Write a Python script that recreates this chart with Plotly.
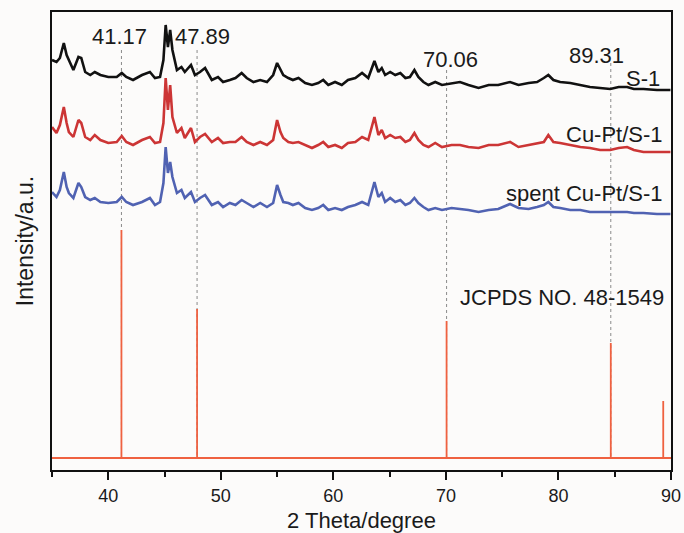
import plotly.graph_objects as go

# ---- data (2θ in degrees, intensity in a.u. as displayed, stacked) ----
two_theta = [35.0, 35.4, 35.7, 36.05, 36.3, 36.5, 36.9, 37.35, 37.6, 37.95, 38.4, 38.8, 39.3, 40.0,
             40.75, 41.2, 41.6, 42.2, 43.0, 43.7, 44.15, 44.6, 44.9, 45.1, 45.3, 45.5, 45.7, 46.1,
             46.5, 46.8, 47.35, 47.7, 48.15, 48.6, 49.2, 49.75, 50.2, 50.8, 51.3, 51.85, 52.3, 52.9,
             53.5, 54.1, 54.65, 55.0, 55.3, 55.55, 56.0, 56.4, 56.9, 57.5, 58.1, 58.65, 59.1, 59.55,
             60.15, 60.75, 61.3, 61.95, 62.55, 63.1, 63.65, 64.0, 64.3, 64.6, 65.05, 65.5, 65.95,
             66.4, 66.8, 67.2, 67.55, 68.0, 68.45, 69.05, 69.65, 70.5, 71.25, 72.0, 72.9, 73.8,
             74.65, 75.7, 76.45, 77.35, 78.1, 78.7, 79.1, 79.55, 80.15, 81.05, 81.95, 82.8, 83.7,
             84.6, 85.35, 86.1, 86.7, 87.55, 88.75, 89.95]

s1 = [410, 408, 412, 427, 415, 410, 400, 413, 412, 398, 395, 398, 395, 393, 393, 397, 393, 390,
      395, 398, 392, 393, 410, 445, 423, 440, 420, 400, 403, 398, 405, 395, 398, 402, 390, 393,
      388, 390, 392, 397, 392, 388, 390, 388, 395, 407, 400, 395, 392, 390, 392, 387, 385, 387,
      390, 385, 388, 385, 390, 392, 397, 392, 409, 398, 402, 395, 398, 395, 397, 392, 393, 400,
      393, 388, 385, 388, 385, 387, 388, 385, 382, 385, 385, 388, 385, 387, 388, 392, 395, 390,
      388, 387, 385, 383, 382, 381, 383, 383, 381, 381, 380, 380]

cupt_s1 = [343, 337, 345, 363, 347, 338, 333, 350, 347, 333, 330, 335, 330, 327, 328, 334, 328, 325,
           330, 333, 327, 328, 347, 392, 360, 385, 353, 337, 342, 332, 342, 328, 333, 336, 328, 332,
           327, 328, 328, 333, 328, 325, 328, 325, 330, 350, 338, 332, 328, 327, 328, 325, 322, 325,
           328, 323, 325, 322, 327, 328, 333, 330, 353, 335, 340, 332, 335, 332, 333, 328, 330, 337,
           330, 325, 323, 327, 323, 325, 325, 323, 322, 325, 325, 328, 323, 325, 327, 328, 335, 328,
           327, 325, 323, 322, 320, 320, 322, 323, 320, 318, 318, 318]

spent_cupt_s1 = [278, 273, 280, 298, 283, 277, 272, 287, 283, 273, 270, 272, 268, 267, 268, 273, 268, 265,
                 268, 272, 265, 268, 287, 323, 297, 308, 293, 277, 280, 272, 278, 268, 272, 275, 265, 268,
                 263, 267, 265, 270, 267, 263, 267, 263, 267, 285, 275, 268, 267, 265, 267, 262, 260, 262,
                 265, 260, 262, 260, 263, 265, 268, 265, 288, 273, 277, 268, 272, 268, 270, 265, 267, 272,
                 267, 263, 260, 262, 260, 262, 261, 260, 258, 260, 261, 266, 262, 261, 263, 265, 268, 263,
                 262, 260, 260, 258, 258, 258, 258, 258, 257, 257, 256, 256]

# JCPDS No. 48-1549 reference sticks
ref_pos = [41.17, 47.89, 70.06, 84.65, 89.31]
ref_top = [240, 161, 149, 127, 69]
ref_base = 12

# dashed guide lines and their peak labels
guide_pos = [41.17, 47.89, 70.06, 84.65]
guide_top = [420, 420, 400, 407]
peak_labels = ["41.17", "47.89", "70.06", "89.31"]
peak_label_x = [41.04, 48.38, 70.38, 83.35]
peak_label_y = [434, 434, 411, 415]

series_names = ["S-1", "Cu-Pt/S-1", "spent Cu-Pt/S-1"]
series_colors = ["#111111", "#cc3535", "#5062b2"]
series_label_x = [89.2, 89.5, 89.5]
series_label_y = [392, 336, 277]

x_tickvals = [40, 50, 60, 70, 80, 90]
x_ticktext = ["40", "50", "60", "70", "80", "90"]

FONT = "Liberation Sans, Arial, sans-serif"
BG = "#fcfbfa"
STICK = "#ef6140"

fig = go.Figure()

# dashed guides (drawn first, underneath)
gx, gy = [], []
for p, t in zip(guide_pos, guide_top):
    gx += [p, p, None]
    gy += [t, ref_base, None]
fig.add_trace(go.Scatter(x=gx, y=gy, mode="lines", showlegend=False, hoverinfo="skip",
                         line=dict(color="#8a8a8a", width=1, dash="3px,3px")))

# XRD patterns
for ys, name, col in zip([s1, cupt_s1, spent_cupt_s1], series_names, series_colors):
    fig.add_trace(go.Scatter(x=two_theta, y=ys, mode="lines", name=name, showlegend=False,
                             line=dict(color=col, width=2.6)))

# reference baseline
fig.add_trace(go.Scatter(x=[35, 90], y=[ref_base, ref_base], mode="lines", showlegend=False,
                         hoverinfo="skip", line=dict(color=STICK, width=1.8)))
# reference sticks
sx, sy = [], []
for p, t in zip(ref_pos, ref_top):
    sx += [p, p, None]
    sy += [ref_base, t, None]
fig.add_trace(go.Scatter(x=sx, y=sy, mode="lines", name="JCPDS NO. 48-1549", showlegend=False,
                         line=dict(color=STICK, width=1.8)))

annotations = []
for t, x, y in zip(peak_labels, peak_label_x, peak_label_y):
    annotations.append(dict(x=x, y=y, xref="x", yref="y", text=t, showarrow=False,
                            xanchor="center", yanchor="middle",
                            font=dict(family=FONT, size=22, color="#1a1a1a")))
for t, x, y in zip(series_names, series_label_x, series_label_y):
    annotations.append(dict(x=x, y=y, xref="x", yref="y", text=t, showarrow=False,
                            xanchor="right", yanchor="middle",
                            font=dict(family=FONT, size=22, color="#1a1a1a")))
annotations.append(dict(x=71.1, y=173, xref="x", yref="y", text="JCPDS NO. 48-1549",
                        showarrow=False, xanchor="left", yanchor="middle",
                        font=dict(family=FONT, size=22, color="#1a1a1a")))

fig.update_layout(
    template="none",
    width=684, height=533,
    margin=dict(l=52, r=13, t=12, b=63, autoexpand=False),
    paper_bgcolor=BG, plot_bgcolor=BG,
    font=dict(family=FONT, size=18, color="#1a1a1a"),
    showlegend=False,
    annotations=annotations,
    xaxis=dict(
        range=[35, 90], showgrid=False, zeroline=False,
        showline=True, linecolor="#111111", linewidth=2, mirror=True,
        tickmode="array", tickvals=x_tickvals, ticktext=x_ticktext,
        ticks="outside", ticklen=8, tickwidth=2, tickcolor="#111111",
        tickfont=dict(family=FONT, size=18, color="#1a1a1a"),
        minor=dict(tickmode="array", tickvals=[35, 45, 55, 65, 75, 85], ticks="outside",
                   ticklen=5, tickwidth=2, tickcolor="#111111", showgrid=False),
        title=dict(text="2 Theta/degree", font=dict(family=FONT, size=22, color="#1a1a1a"),
                   standoff=8),
        automargin=False,
    ),
    yaxis=dict(
        range=[0, 458], showgrid=False, zeroline=False,
        showline=True, linecolor="#111111", linewidth=2, mirror=True,
        showticklabels=False, ticks="",
        title=dict(text="Intensity/a.u.", font=dict(family=FONT, size=23, color="#1a1a1a"),
                   standoff=10),
        automargin=False,
    ),
)

fig.write_html("out.html",
               config={"displayModeBar": False},
               post_script="document.body.style.margin='0';document.body.style.background='" + BG + "';")
